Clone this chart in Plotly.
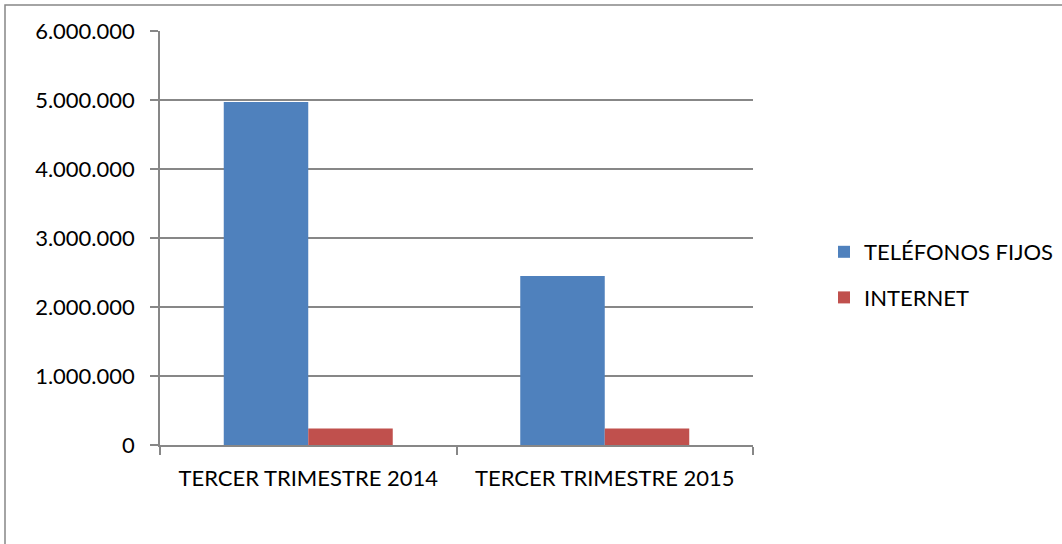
import plotly.graph_objects as go

categories = ["TERCER TRIMESTRE 2014", "TERCER TRIMESTRE 2015"]
telefonos_fijos = [4970000, 2450000]
internet = [240000, 240000]
series_names = ["TELÉFONOS FIJOS", "INTERNET"]
y_ticks = [0, 1000000, 2000000, 3000000, 4000000, 5000000, 6000000]

FONT = "Lato"
GRID = "#878787"

fig = go.Figure()
fig.add_trace(go.Bar(x=categories, y=telefonos_fijos, name=series_names[0],
                     marker=dict(color="#4F81BD", line=dict(width=0)),
                     legendgroup="a"))
fig.add_trace(go.Bar(x=categories, y=internet, name=series_names[1],
                     marker=dict(color="#C0504D", line=dict(width=0)),
                     legendgroup="b"))

L, R, T, B = 160, 1062 - 753, 31, 544 - 445
W, H = 1062 - L - R, 544 - T - B

fig.update_layout(
    width=1062, height=544,
    margin=dict(l=L, r=R, t=T, b=B, pad=0, autoexpand=False),
    paper_bgcolor="white", plot_bgcolor="white",
    separators=",.",
    barmode="group", bargap=0.43, bargroupgap=0,
    font=dict(family=FONT, size=22, color="#000000"),
    showlegend=True,
    legend=dict(x=(824 - L) / W, y=(445 - 231) / H, xanchor="left", yanchor="top",
                font=dict(family=FONT, size=22), tracegroupgap=14,
                traceorder="grouped", itemwidth=30, bgcolor="rgba(0,0,0,0)"),
    xaxis=dict(showgrid=False, showline=True, linecolor=GRID, linewidth=1.5,
               ticks="outside", tickson="boundaries", ticklen=8, tickcolor=GRID,
               tickwidth=1.5, zeroline=False, ticklabelstandoff=13),
    yaxis=dict(range=[0, 6000000], tickvals=y_ticks, tickformat=",d",
               showgrid=True, gridcolor=GRID, gridwidth=1.5,
               showline=True, linecolor=GRID, linewidth=1.5,
               ticks="outside", ticklen=8, tickcolor=GRID, tickwidth=1.5,
               zeroline=False, ticklabelstandoff=11),
)

fig.add_shape(type="rect", xref="paper", yref="paper",
              x0=(5 - L) / W, x1=(1100 - L) / W,
              y0=(445 - 600) / H, y1=(445 - 5) / H,
              line=dict(color=GRID, width=1.5), fillcolor="rgba(0,0,0,0)", layer="below")

fig.write_html("out.html", config={"displayModeBar": False},
               post_script="document.body.style.margin='0';document.body.style.overflow='hidden';")
